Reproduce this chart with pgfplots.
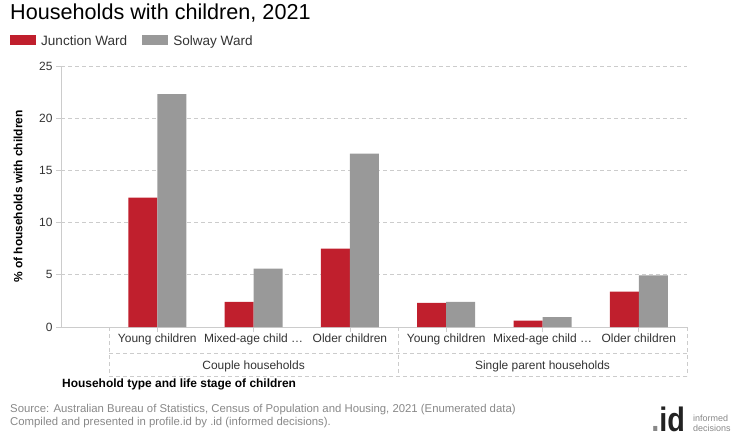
\documentclass[border=0pt]{standalone}
\usepackage{fontspec}
\setmainfont{Liberation Sans}
\usepackage{pgfplots}
\pgfplotsset{compat=1.18}
\definecolor{jw}{HTML}{C01F2D}
\definecolor{sw}{HTML}{999999}
\definecolor{gridc}{HTML}{CCCCCC}
\definecolor{txt}{HTML}{333333}
\definecolor{foot}{HTML}{888888}
\definecolor{logo}{HTML}{222222}
\tikzset{catlab/.style={anchor=base, inner sep=0, font=\fontsize{12}{14}\selectfont, text=txt},
  dashg/.style={gridc, line width=0.8bp, dash pattern=on 4bp off 3bp}}
\begin{document}
\begin{tikzpicture}[x=1bp,y=1bp]
\useasboundingbox (0,0) rectangle (740,-440);
\node[anchor=base west, inner sep=0, font=\fontsize{21.7}{25}\selectfont, text=black] at (10,-20) {Households with children, 2021};
\begin{axis}[
  at={(61bp,-327bp)}, anchor=south west,
  scale only axis, width=626bp, height=261bp,
  xmin=-1, xmax=5.5, ymin=0, ymax=25,
  ytick={0,5,10,15,20,25},
  xtick={0,1,2,3,4,5},
  xticklabels={},
  axis x line=bottom, axis y line=left,
  axis line style={-, draw=gridc, line width=1bp},
  ymajorgrids, grid style={draw=gridc, line width=0.8bp, dash pattern=on 4bp off 3bp},
  tick style={draw=gridc, line width=0.8bp},
  major tick length=5bp, tick align=outside,
  tick label style={font=\fontsize{12}{14}\selectfont, text=txt},
  /pgf/number format/assume math mode=true,
  ybar=0pt, bar width=29bp,
  clip=false,
  ylabel={\% of households with children},
  ylabel style={font=\bfseries\fontsize{12}{14}\selectfont, text=black, at={(axis description cs:-0.0687,0.5)}, anchor=center},
  xlabel={Household type and life stage of children},
  xlabel style={font=\bfseries\fontsize{12}{14}\selectfont, text=black, at={(axis description cs:0.0016,-0.2318)}, anchor=base west, inner sep=0pt},
  legend style={at={(axis description cs:-0.0815,1.0958)}, anchor=west, draw=none, fill=none, inner sep=0pt,
    legend columns=2, font=\fontsize{13.6}{15}\selectfont, text=txt,
    /tikz/every even column/.append style={column sep=15bp}, nodes={inner sep=0pt}},
  every axis plot post/.append style={legend image code/.code={\fill[##1] (0bp,-3bp) rectangle (26bp,7bp); \path (31bp,0bp);}},
]
\addplot[fill=jw, draw=none] coordinates {(0,12.4) (1,2.4) (2,7.5) (3,2.3) (4,0.6) (5,3.4)};
\addplot[fill=sw, draw=none] coordinates {(0,22.3) (1,5.6) (2,16.6) (3,2.4) (4,0.95) (5,4.95)};
\legend{Junction Ward, Solway Ward}
\draw[dashg] (axis cs:-0.5,0) -- ([yshift=-49bp]axis cs:-0.5,0);
\draw[dashg] (axis cs:2.5,0) -- ([yshift=-49bp]axis cs:2.5,0);
\draw[dashg] (axis cs:5.5,0) -- ([yshift=-49bp]axis cs:5.5,0);
\draw[dashg] ([yshift=-26bp]axis cs:-0.5,0) -- ([yshift=-26bp]axis cs:5.5,0);
\draw[dashg] ([yshift=-49bp]axis cs:-0.5,0) -- ([yshift=-49bp]axis cs:5.5,0);
\node[catlab] at ([yshift=-15.5bp]axis cs:0,0) {Young children};
\node[catlab] at ([yshift=-15.5bp]axis cs:1,0) {Mixed-age child …};
\node[catlab] at ([yshift=-15.5bp]axis cs:2,0) {Older children};
\node[catlab] at ([yshift=-15.5bp]axis cs:3,0) {Young children};
\node[catlab] at ([yshift=-15.5bp]axis cs:4,0) {Mixed-age child …};
\node[catlab] at ([yshift=-15.5bp]axis cs:5,0) {Older children};
\node[catlab] at ([yshift=-42.5bp]axis cs:1,0) {Couple households};
\node[catlab] at ([yshift=-42.5bp]axis cs:4,0) {Single parent households};
\end{axis}
\node[anchor=base west, inner sep=0, font=\fontsize{11.4}{13}\selectfont, text=foot] at (10,-412) {Source: Australian Bureau of Statistics, Census of Population and Housing, 2021 (Enumerated data)};
\node[anchor=base west, inner sep=0, font=\fontsize{11.4}{13}\selectfont, text=foot] at (10,-425) {Compiled and presented in profile.id by .id (informed decisions).};
\node[anchor=base east, inner sep=0, xscale=0.85, text=logo] at (685,-431) {\fontsize{34}{36}\selectfont\bfseries\textcolor{foot}{.}id};
\node[anchor=base west, inner sep=0, font=\fontsize{9}{10}\selectfont, text=foot] at (693,-421) {informed};
\node[anchor=base west, inner sep=0, font=\fontsize{9}{10}\selectfont, text=foot] at (693,-431.5) {decisions};
\end{tikzpicture}
\end{document}
